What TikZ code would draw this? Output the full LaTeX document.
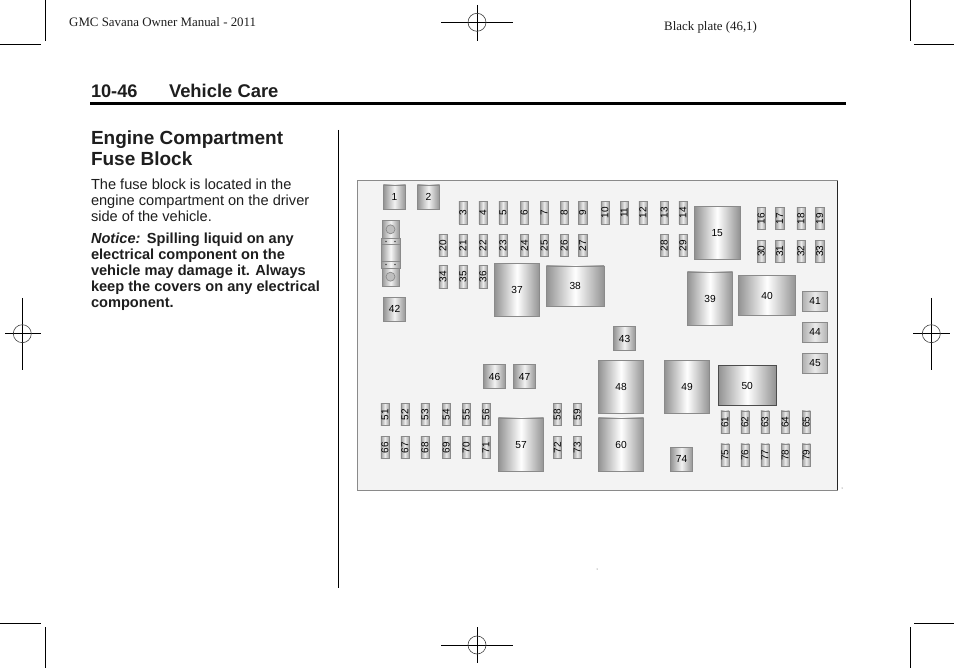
\documentclass[tikz,border=0pt]{standalone}
\usepackage{fontspec}
\setmainfont{Liberation Sans}
\newfontfamily\serifface{Liberation Serif}
\definecolor{ink}{HTML}{1E1E1E}
\definecolor{panel}{HTML}{F3F3F3}
\definecolor{edge}{HTML}{8A8A8A}
\definecolor{shadeside}{HTML}{929292}
\definecolor{shadeside2}{HTML}{B0B0B0}
\definecolor{fuseside}{HTML}{A0A0A0}
\tikzset{
  txt/.style={anchor=base west,inner sep=0pt,outer sep=0pt,text=ink,font=\fontsize{#1}{#1}\selectfont},
  boldtxt/.style={anchor=base west,inner sep=0pt,outer sep=0pt,text=ink,font=\fontsize{#1}{#1}\selectfont\bfseries},
  relay/.style={draw=edge,line width=0.8pt,inner sep=0pt,left color=shadeside,right color=shadeside,middle color=white,text=black,font=\fontsize{10.2}{10.2}\selectfont},
  fusebig/.style={draw=edge,line width=0.8pt,inner sep=0pt,left color=shadeside2,right color=shadeside2,middle color=white!92!black,text=black,font=\fontsize{10.2}{10.2}\selectfont,minimum width=25.4pt,minimum height=19.6pt},
  fusesq/.style={draw=edge,line width=0.8pt,inner sep=0pt,left color=shadeside,right color=shadeside,middle color=white!95!black,text=black,font=\fontsize{10.2}{10.2}\selectfont,minimum width=22.4pt,minimum height=24pt},
  tinyfuse/.style={draw=edge,line width=0.7pt,inner sep=0pt,left color=fuseside,right color=fuseside,middle color=white!92!black,text=black,font=\fontsize{10}{10}\selectfont,minimum width=8.3pt,minimum height=22.4pt},
  reg/.style={line width=0.75pt,black},
  regc/.style={line width=0.6pt,black!75},
}
\begin{document}
\begin{tikzpicture}[x=1pt,y=-1pt]
\useasboundingbox (0,0) rectangle (954,668);
\fill[white] (0,0) rectangle (954,668);
% crop marks
\draw[reg] (45,0) -- (45,41) (0,44) -- (41,44);
\draw[reg] (910,0) -- (910,41) (914,44) -- (954,44);
\draw[reg] (45,627) -- (45,668) (0,623) -- (41,623);
\draw[reg] (910,627) -- (910,668) (914,623) -- (954,623);
% registration marks
\draw[reg] (441,22.3) -- (513,22.3) (477,5) -- (477,40.7);
\draw[regc] (477,22.3) circle (9);
\draw[reg] (441,645) -- (513,645) (477,627) -- (477,663);
\draw[regc] (477,645) circle (9);
\draw[reg] (5,333.7) -- (41,333.7) (22.3,298) -- (22.3,370);
\draw[regc] (22.3,333.7) circle (9);
\draw[reg] (913,333.7) -- (950,333.7) (931.3,298) -- (931.3,370);
\draw[regc] (931.3,333.7) circle (9);
% header text
\node[anchor=base west,inner sep=0pt,text=ink,font=\serifface\fontsize{12.9}{12.9}\selectfont] (mantitle) at (69,26.8) {GMC Savana Owner Manual - 2011};
\node[anchor=base west,inner sep=0pt,text=ink,font=\serifface\fontsize{12.9}{12.9}\selectfont] (plate) at (664,30.5) {Black plate (46,1)};
\node[boldtxt=18.2] (pagenum) at (91,97.8) {10-46};
\node[boldtxt=18.4] (section) at (169,97.8) {Vehicle Care};
\fill[black] (90,102) rectangle (846,105);
\draw[line width=1pt,black] (338,130) -- (338,588);
% left column
\node[boldtxt=19] (h1) at (91,144.8) {Engine Compartment};
\node[boldtxt=19] (h2) at (91,165.8) {Fuse Block};
\node[txt=14.6] (b1) at (91,189.5) {The fuse block is located in the};
\node[txt=14.6] (b2) at (91,205.5) {engine compartment on the driver};
\node[txt=14.6] (b3) at (91,221.5) {side of the vehicle.};
\node[boldtxt=14.6] (n1) at (91,243.5) {\itshape Notice:\normalfont\bfseries\hspace{6.5pt}Spilling liquid on any};
\node[boldtxt=14.6] (n2) at (91,259.5) {electrical component on the};
\node[boldtxt=14.6] (n3) at (91,275.5) {vehicle may damage it. Always};
\node[boldtxt=14.6] (n4) at (91,291.5) {keep the covers on any electrical};
\node[boldtxt=14.6] (n5) at (91,307.5) {component.};
% panel
\fill[panel] (357.5,181) rectangle (837.5,490);
\draw[line width=1pt,edge] (837.5,181) -- (357.5,181) -- (357.5,490) -- (837.5,490);
\draw[line width=1pt,black!85] (837.5,181) -- (837.5,490);
% square fuses
\foreach \n/\x/\y in {1/394.5/197,2/428.5/197,42/394.5/309.2,43/624.5/338.5,46/494.5/376.5,47/524.5/376.5,74/681.5/459.2}
  \node[fusesq] (s\n) at (\x,\y) {\n};
\foreach \n/\y in {41/301.2,44/332.2,45/363.5}
  \node[fusebig] (s\n) at (815,\y) {\n};
% relays (tall)
\foreach \n/\x/\y in {15/717.2/232.8,37/517/290,39/710/298.7,48/621/387,60/621/444.7,49/687/387,57/521/444.7}
  \node[relay,minimum width=45.4pt,minimum height=53.4pt] (r\n) at (\x,\y) {\n};
% relays (wide)
\foreach \n/\x/\y in {38/575.2/286.2,40/767/295.7}
  \node[relay,minimum width=57.7pt,minimum height=40.4pt] (r\n) at (\x,\y) {\n};
\node[relay,minimum width=57.7pt,minimum height=40.4pt,draw=black!70] (r50) at (747.2,385.5) {50};
% mini fuses
\foreach \n/\x/\y in {3/463/212.8,4/483/212.8,5/503/212.8,6/524.3/212.8,7/544.3/212.8,8/564.3/212.8,9/582.7/212.8,
  10/605/212.8,11/624.3/212.8,12/643/212.8,13/664.3/212.8,14/683/212.8,
  20/443/245.5,21/463/245.5,22/483/245.5,23/503/245.5,24/524.3/245.5,25/544.3/245.5,26/564.3/245.5,27/582.7/245.5,
  28/664.3/245.5,29/683/245.5,
  34/443/277,35/463/277,36/483/277,
  16/761.3/218.5,17/779.7/218.5,18/801/218.5,19/819.7/218.5,
  30/761.3/251.3,31/779.7/251.3,32/801/251.3,33/819.7/251.3,
  51/385/414.5,52/405/414.5,53/425/414.5,54/446.3/414.5,55/466.3/414.5,56/486/414.5,
  58/557.3/414.5,59/577.3/414.5,
  66/385/447.5,67/405/447.5,68/425/447.5,69/446.3/447.5,70/466.3/447.5,71/486/447.5,
  72/557.3/447.5,73/577.3/447.5,
  61/725/422.2,62/745/422.2,63/765/422.2,64/785.3/422.2,65/806.3/422.2,
  75/725/455.2,76/745/455.2,77/765/455.2,78/785.3/455.2,79/806.3/455.2}
  \node[tinyfuse] (m\n) at (\x,\y) {\rotatebox{90}{\n}};
% maxi fuse element
\begin{scope}[draw=edge,line width=0.7pt]
  \filldraw[left color=black!40,right color=black!40,middle color=black!5] (382.3,220.3) rectangle (399,238.5);
  \filldraw[left color=black!40,right color=black!40,middle color=black!5] (382.3,268) rectangle (399,286);
  \filldraw[left color=black!40,right color=black!40,middle color=black!3] (381.3,238.3) rectangle (400,268.3);
  \draw (381.3,244.3) -- (400,244.3) (381.3,261) -- (400,261);
  \filldraw[fill=black!25] (390.5,229.3) circle (4.5);
  \filldraw[fill=black!25] (390.5,276.7) circle (4.5);
\end{scope}
\fill[black!70] (386,241.5) circle (0.8) (395,241.5) circle (0.8) (386,264.5) circle (0.8) (395,264.5) circle (0.8);
% specks
\fill[black!70] (842,488) circle (0.5) (597,569) circle (0.5);
\end{tikzpicture}
\end{document}
